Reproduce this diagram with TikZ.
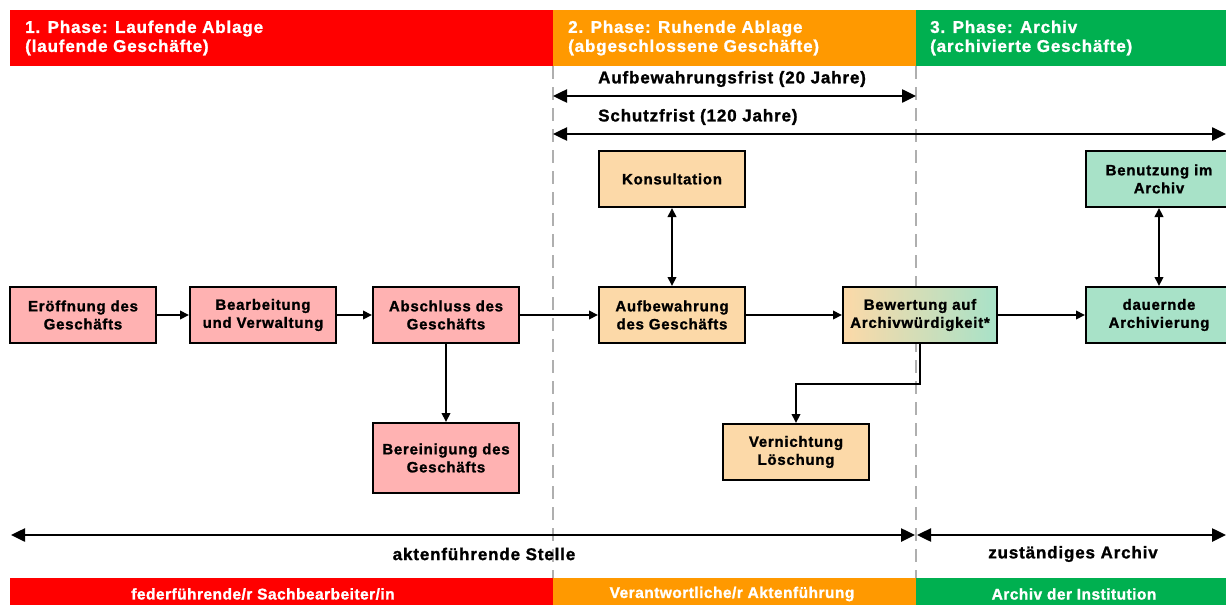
\documentclass[tikz,border=0pt]{standalone}
\usepackage{fontspec}
\setmainfont{Liberation Sans}[BoldFont={Liberation Sans Bold}, BoldFeatures={FakeBold=1.3}, LetterSpace=5]
\newfontfamily\barf{Liberation Sans}[BoldFont={Liberation Sans Bold}, BoldFeatures={FakeBold=1.3}, LetterSpace=3]
\usetikzlibrary{arrows.meta}
\definecolor{hred}{RGB}{255,0,0}
\definecolor{horange}{RGB}{255,153,0}
\definecolor{hgreen}{RGB}{0,176,80}
\definecolor{bred}{RGB}{255,178,178}
\definecolor{borange}{RGB}{252,217,168}
\definecolor{bgreen}{RGB}{168,226,200}
\definecolor{dashgray}{RGB}{175,175,175}
\begin{document}
\begin{tikzpicture}[x=1pt,y=-1pt,
  box/.style={draw=black, line width=2pt, minimum width=146pt, minimum height=56pt, inner sep=0pt, align=center, font=\fontsize{15}{18}\selectfont\bfseries},
  redbox/.style={box, fill=bred},
  orbox/.style={box, fill=borange},
  grbox/.style={box, fill=bgreen},
  flow/.style={line width=2pt, -{Triangle[length=9pt,width=8.5pt]}},
  flowtwo/.style={line width=2pt, {Triangle[length=9pt,width=8.5pt]}-{Triangle[length=9pt,width=8.5pt]}},
  period/.style={line width=2.5pt, {Triangle[length=14pt,width=13pt]}-{Triangle[length=14pt,width=13pt]}},
  hdrtext/.style={text=white, font=\fontsize{17}{19}\selectfont\bfseries, align=left, anchor=west, inner sep=0pt},
  pertext/.style={font=\fontsize{17}{19}\selectfont\bfseries, anchor=west, inner sep=0pt},
  bottext/.style={font=\fontsize{17}{20}\selectfont\bfseries, inner sep=0pt},
  bartext/.style={text=white, font=\barf\fontsize{15.5}{18}\selectfont\bfseries, inner sep=0pt},
  phaseline/.style={dashgray, line width=1.5pt, dash pattern=on 13pt off 8pt}
]
\clip (0,0) rectangle (1226,605);
\fill[white] (0,0) rectangle (1226,605);
% header bars
\fill[hred] (10,10) rectangle (553,66);
\fill[horange] (553,10) rectangle (916,66);
\fill[hgreen] (916,10) rectangle (1226,66);
\node[hdrtext] (h1) at (25,38) {1. Phase: Laufende Ablage\\(laufende Geschäfte)};
\node[hdrtext] (h2) at (568,38) {2. Phase: Ruhende Ablage\\(abgeschlossene Geschäfte)};
\node[hdrtext] (h3) at (930,38) {3. Phase: Archiv\\(archivierte Geschäfte)};
% phase lines
\draw[phaseline] (553,66) -- (553,578);
\draw[phaseline] (916,66) -- (916,578);
% periods
\coordinate (a1) at (553,96);
\coordinate (a2) at (916,96);
\coordinate (s1) at (553,134);
\coordinate (s2) at (1226,134);
\draw[period] (a1) -- (a2);
\draw[period] (s1) -- (s2);
\node[pertext] (la) at (598,79) {Aufbewahrungsfrist (20 Jahre)};
\node[pertext] (ls) at (598,117) {Schutzfrist (120 Jahre)};
% boxes
\node[redbox] (eroe) at (83,315) {Eröffnung des\\Geschäfts};
\node[redbox] (bear) at (263,315) {Bearbeitung\\und Verwaltung};
\node[redbox] (absc) at (446,315) {Abschluss des\\Geschäfts};
\node[redbox, minimum height=70pt] (bere) at (446,458) {Bereinigung des\\Geschäfts};
\node[orbox] (aufb) at (672,315) {Aufbewahrung\\des Geschäfts};
\node[orbox] (kons) at (672,179) {Konsultation};
\node[box, minimum width=154pt, left color=borange, right color=bgreen] (bew) at (920,315) {Bewertung auf\\Archivwürdigkeit*};
\node[orbox] (vern) at (796,452) {Vernichtung\\Löschung};
\node[grbox] (dau) at (1159,315) {dauernde\\Archivierung};
\node[grbox] (benu) at (1159,179) {Benutzung im\\Archiv};
% connectors
\draw[flow] (eroe) -- (bear);
\draw[flow] (bear) -- (absc);
\draw[flow] (absc) -- (aufb);
\draw[flow] (aufb) -- (bew);
\draw[flow] (bew) -- (dau);
\draw[flow] (absc) -- (bere);
\draw[flowtwo] (kons) -- (aufb);
\draw[flowtwo] (benu) -- (dau);
\draw[flow] (bew.south) -- ++(0,40) -| (vern.north);
% bottom arrows
\coordinate (b1) at (11,535);
\coordinate (b2) at (915,535);
\coordinate (b3) at (917,535);
\coordinate (b4) at (1226,535);
\draw[period] (b1) -- (b2);
\draw[period] (b3) -- (b4);
\node[bottext] (lst) at (484,554) {aktenführende Stelle};
\node[bottext] (lar) at (1073,554) {zuständiges Archiv};
% bottom bars
\fill[hred] (10,578) rectangle (553,605);
\fill[horange] (553,578) rectangle (916,605);
\fill[hgreen] (916,578) rectangle (1226,605);
\node[bartext] (f1) at (263,594) {federführende/r Sachbearbeiter/in};
\node[bartext] (f2) at (732,594) {Verantwortliche/r Aktenführung};
\node[bartext] (f3) at (1074,594) {Archiv der Institution};
\end{tikzpicture}
\end{document}
